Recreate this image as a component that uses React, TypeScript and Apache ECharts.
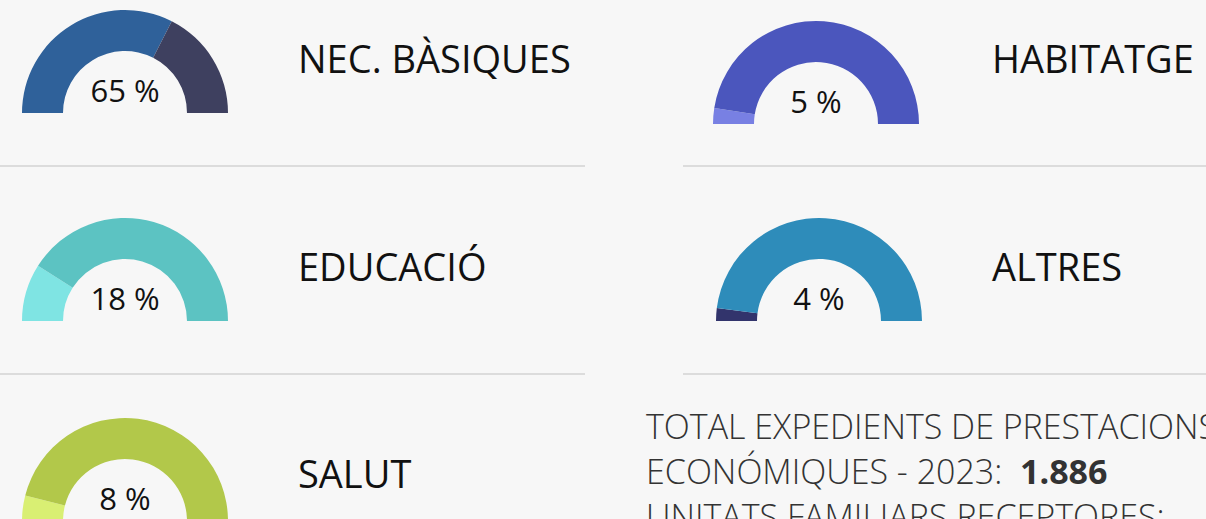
import React, { useEffect, useRef } from "react";
import * as echarts from "echarts";

const categories = ["NEC. BÀSIQUES", "HABITATGE", "EDUCACIÓ", "ALTRES", "SALUT"];
const percentages = [65, 5, 18, 4, 8];
const totalLines = ["TOTAL EXPEDIENTS DE PRESTACIONS", "ECONÓMIQUES - 2023:  ", "UNITATS FAMILIARS RECEPTORES:"];
const totalValue = "1.886";

const pctColors = ["#2f619a", "#7880e3", "#7fe4e3", "#32346c", "#d9ef73"];
const restColors = ["#3e405f", "#4b56bd", "#5cc3c2", "#2e8cba", "#b2c84a"];
const centers = [[125, 113], [816, 124], [125, 321], [819, 321], [125, 521]];
const labelPos = [[298, 58], [992, 58], [298, 266], [992, 266], [298, 473]];

const FONT = "'Open Sans', sans-serif";

export default function App() {
  const ref = useRef<HTMLDivElement>(null);
  useEffect(() => {
    const chart = echarts.init(ref.current!, null, { renderer: "svg" });
    const series = percentages.map((p, i) => ({
      type: "pie",
      center: centers[i],
      radius: [62, 103],
      startAngle: 180,
      endAngle: 0,
      clockwise: true,
      silent: true,
      label: { show: false },
      labelLine: { show: false },
      itemStyle: { borderWidth: 0 },
      emphasis: { disabled: true },
      data: [
        { value: p, name: categories[i] + " %", itemStyle: { color: pctColors[i] } },
        { value: 100 - p, name: categories[i] + " resta", itemStyle: { color: restColors[i] } },
      ],
    }));
    const graphics: any[] = [];
    percentages.forEach((p, i) => {
      graphics.push({
        type: "text",
        x: centers[i][0],
        y: centers[i][1] - 23,
        style: {
          text: p + " %",
          fill: "#111",
          font: `400 31px ${FONT}`,
          textAlign: "center",
          textVerticalAlign: "middle",
        },
      });
      graphics.push({
        type: "text",
        x: labelPos[i][0],
        y: labelPos[i][1],
        style: {
          text: categories[i],
          fill: "#111",
          font: `400 38px ${FONT}`,
          textAlign: "left",
          textVerticalAlign: "middle",
        },
      });
    });
    [165, 373].forEach((y) => {
      graphics.push({ type: "rect", shape: { x: 0, y, width: 585, height: 2 }, style: { fill: "#dcdcdc" } });
      graphics.push({ type: "rect", shape: { x: 683, y, width: 523, height: 2 }, style: { fill: "#dcdcdc" } });
    });
    graphics.push({
      type: "text",
      x: 646,
      y: 426,
      style: { text: totalLines[0], fill: "#333", font: `300 34px ${FONT}`, textVerticalAlign: "middle" },
    });
    graphics.push({
      type: "text",
      x: 646,
      y: 471,
      style: {
        text: totalLines[1] + "{b|" + totalValue + "}",
        fill: "#333",
        font: `300 34px ${FONT}`,
        textVerticalAlign: "middle",
        rich: { b: { fontFamily: "Open Sans", fontWeight: 700, fontSize: 34, fill: "#333" } },
      },
    });
    graphics.push({
      type: "text",
      x: 646,
      y: 516,
      style: { text: totalLines[2], fill: "#333", font: `300 34px ${FONT}`, textVerticalAlign: "middle" },
    });
    chart.setOption({
      animation: false,
      backgroundColor: "#f7f7f7",
      series,
      graphic: graphics,
    });
    return () => chart.dispose();
  }, []);
  return (
    <div
      ref={ref}
      style={{ position: "fixed", left: 0, top: 0, width: 1206, height: 519, background: "#f7f7f7" }}
    />
  );
}
